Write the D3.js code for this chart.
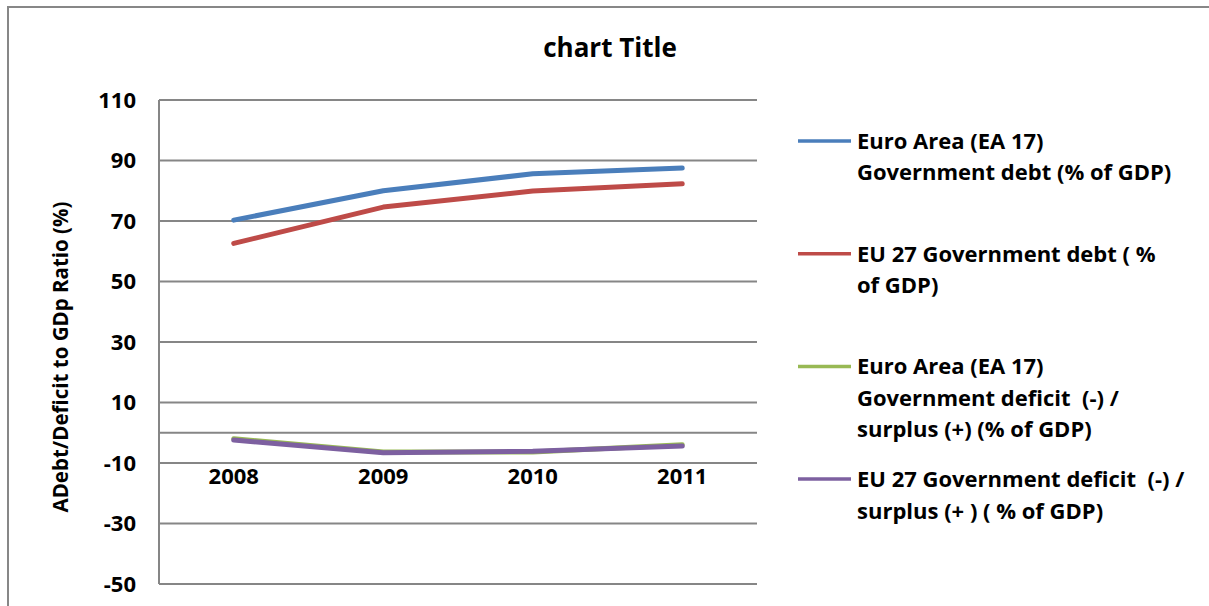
<!DOCTYPE html>
<html lang="en">
  <head>
    <meta charset="utf-8" />
    <title>chart Title</title>
    <script src="https://d3js.org/d3.v7.min.js"></script>
    <style>
      body {
        margin: 0;
        background: white;
      }
      text {
        font-family: "Open Sans", "DejaVu Sans", sans-serif;
        font-weight: bold;
        fill: black;
        white-space: pre;
      }
      .grid line {
        stroke: #868686;
        stroke-width: 2;
      }
      .series {
        fill: none;
        stroke-width: 5;
        stroke-linecap: round;
        stroke-linejoin: round;
      }
    </style>
  </head>
  <body>
    <svg width="1209" height="606"></svg>
    <script>
      const years = ["2008", "2009", "2010", "2011"];
      const yTicks = [110, 90, 70, 50, 30, 10, -10, -30, -50];

      const seriesNames = [
        ["Euro Area (EA 17)", "Government debt (% of GDP)"],
        ["EU 27 Government debt ( %", "of GDP)"],
        ["Euro Area (EA 17)", "Government deficit  (-) /", "surplus (+) (% of GDP)"],
        ["EU 27 Government deficit  (-) /", "surplus (+ ) ( % of GDP)"],
      ];
      const seriesColours = ["#4a7ebb", "#be4b48", "#98b954", "#7d60a0"];

      const eaDebt = [70.3, 80.0, 85.6, 87.5];
      const euDebt = [62.6, 74.6, 79.9, 82.3];
      const eaDeficit = [-2.0, -6.4, -6.4, -4.0];
      const euDeficit = [-2.4, -6.6, -6.1, -4.4];
      const seriesValues = [eaDebt, euDebt, eaDeficit, euDeficit];

      const svg = d3.select("svg");
      const plot = { left: 159, right: 757, top: 100, bottom: 584 };

      // outer chart border
      svg
        .append("rect")
        .attr("x", 8)
        .attr("y", 7)
        .attr("width", 1220)
        .attr("height", 620)
        .attr("fill", "none")
        .attr("stroke", "#878787")
        .attr("stroke-width", 2);

      const x = d3
        .scaleBand()
        .domain(years)
        .range([plot.left, plot.right]);

      const y = d3
        .scaleLinear()
        .domain([-50, 110])
        .range([plot.bottom, plot.top]);

      // gridlines + zero axis
      const grid = svg.append("g").attr("class", "grid");
      grid
        .selectAll(".h")
        .data(yTicks.concat([0]))
        .join("line")
        .attr("x1", plot.left)
        .attr("x2", plot.right)
        .attr("y1", (d) => y(d))
        .attr("y2", (d) => y(d));
      grid
        .append("line")
        .attr("x1", plot.left)
        .attr("x2", plot.left)
        .attr("y1", plot.top)
        .attr("y2", plot.bottom);

      // y tick labels
      svg
        .append("g")
        .selectAll("text")
        .data(yTicks)
        .join("text")
        .attr("x", 136)
        .attr("y", (d) => y(d))
        .attr("dy", "0.36em")
        .style("text-anchor", "end")
        .style("font-size", "22px")
        .text((d) => d);

      // x labels
      svg
        .append("g")
        .selectAll("text")
        .data(years)
        .join("text")
        .attr("x", (d) => x(d) + x.bandwidth() / 2)
        .attr("y", 484)
        .style("text-anchor", "middle")
        .style("font-size", "22px")
        .text((d) => d);

      // series lines
      const line = d3
        .line()
        .x((d, i) => x(years[i]) + x.bandwidth() / 2)
        .y((d) => y(d));

      svg
        .append("g")
        .selectAll("path")
        .data(seriesValues)
        .join("path")
        .attr("class", "series")
        .attr("stroke", (d, i) => seriesColours[i])
        .attr("d", line);

      // title
      svg
        .append("text")
        .attr("x", 610)
        .attr("y", 57)
        .style("text-anchor", "middle")
        .style("font-size", "26px")
        .text("chart Title");

      // y axis title
      svg
        .append("text")
        .attr("transform", "translate(68,357) rotate(-90)")
        .style("text-anchor", "middle")
        .style("font-size", "20.5px")
        .text("ADebt/Deficit to GDp Ratio (%)");

      // legend
      const legend = svg
        .append("g")
        .selectAll("g")
        .data(seriesNames)
        .join("g")
        .attr("transform", (d, i) => "translate(798," + (141 + i * 112.7) + ")");

      legend
        .append("line")
        .attr("x1", 0)
        .attr("x2", 53)
        .attr("stroke", (d, i) => seriesColours[i])
        .attr("stroke-width", 3.5);

      legend
        .selectAll("text")
        .data((d) => d)
        .join("text")
        .attr("x", 59)
        .attr("y", (d, i) => i * 31.5)
        .attr("dy", "0.36em")
        .style("font-size", "22px")
        .text((d) => d);
    </script>
  </body>
</html>
